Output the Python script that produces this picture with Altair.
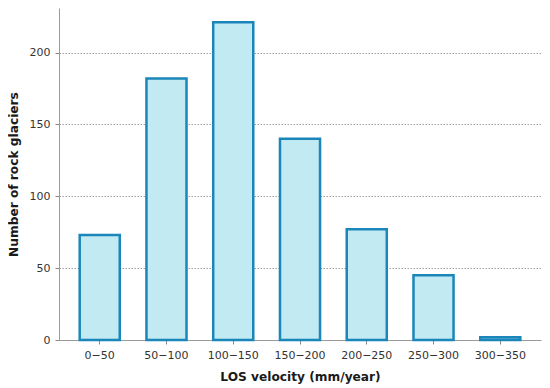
import altair as alt
import pandas as pd

bins = ["0\u221250", "50\u2212100", "100\u2212150", "150\u2212200", "200\u2212250", "250\u2212300", "300\u2212350"]
counts = [73, 182, 221, 140, 77, 45, 2]

df = pd.DataFrame({"bin": bins, "count": counts})

font = "DejaVu Sans"

chart = alt.Chart(df).mark_bar(
    fill="#c1eaf2", stroke="#1a86b9", strokeWidth=2.5
).encode(
    x=alt.X("bin:N", sort=bins, title="LOS velocity (mm/year)",
            scale=alt.Scale(paddingInner=0.4, paddingOuter=0.31),
            axis=alt.Axis(labelAngle=0, labelFontSize=11, labelColor="#333333",
                          titleFontSize=12.2, titleFontWeight="bold", titleColor="#1a1a1a",
                          titlePadding=10, labelPadding=5, tickSize=4, tickColor="#888888",
                          domainColor="#9a9a9a", grid=False)),
    y=alt.Y("count:Q", title="Number of rock glaciers",
            scale=alt.Scale(domain=[0, 231], nice=False),
            axis=alt.Axis(values=[0, 50, 100, 150, 200], labelFontSize=11, labelColor="#333333",
                          titleFontSize=12.2, titleFontWeight="bold", titleColor="#1a1a1a",
                          titlePadding=9, labelPadding=5, tickSize=4, tickColor="#888888",
                          domainColor="#9a9a9a", grid=True, gridDash=[1.5, 1.5],
                          gridColor="#888888", gridWidth=0.8)),
).properties(
    width=482, height=332,
    padding={"left": 51, "top": 0, "right": 1, "bottom": 46},
    autosize=alt.AutoSizeParams(type="none"),
).configure_view(stroke=None).configure_axis(labelFont=font, titleFont=font)

chart.save("out.html", embed_options={"renderer": "svg", "actions": False})
